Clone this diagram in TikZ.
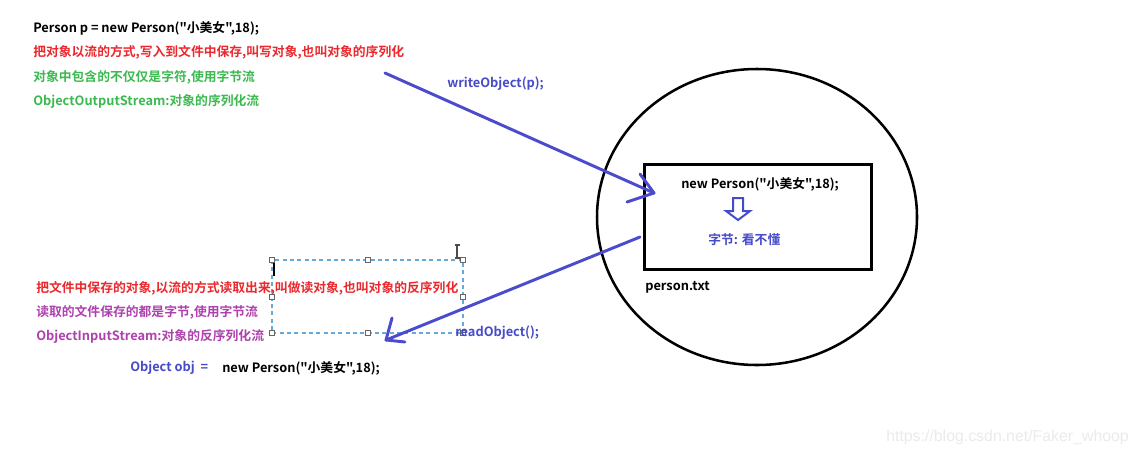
\documentclass[tikz,border=0pt]{standalone}
\usepackage{fontspec}
\setmainfont{Noto Sans CJK SC}[BoldFont={Noto Sans CJK SC Bold},Ligatures=TeXOff]
\newfontfamily\wmfont{Liberation Sans}
\usetikzlibrary{shapes.geometric}
\definecolor{tred}{RGB}{235,40,45}
\definecolor{tgreen}{RGB}{60,185,80}
\definecolor{tpurple}{RGB}{175,65,175}
\definecolor{tblue}{RGB}{70,75,200}
\definecolor{ablue}{RGB}{75,75,205}
\definecolor{selblue}{RGB}{100,170,220}
\begin{document}
\begin{tikzpicture}[x=0.75pt,y=-0.75pt,
  txt/.style={anchor=west,inner sep=0pt,font=\fontsize{9.6pt}{11pt}\selectfont\bfseries},
  arr/.style={draw=ablue,line width=2.2pt,line cap=round,line join=round},
  handle/.style={draw=gray!80!black,fill=white,line width=0.5pt,minimum size=3.6pt,inner sep=0pt,rectangle}]
\useasboundingbox (0,0) rectangle (1137,457);
\fill[white] (0,0) rectangle (1137,457);

% top-left texts
\node[txt,text=black] (t1) at (33,28) {Person p = new Person("小美女",18);};
\node[txt,text=tred] (t2) at (33,52) {把对象以流的方式,写入到文件中保存,叫写对象,也叫对象的序列化};
\node[txt,text=tgreen] (t3) at (33,77) {对象中包含的不仅仅是字符,使用字节流};
\node[txt,text=tgreen] (t4) at (33,101) {ObjectOutputStream:对象的序列化流};
\node[txt,text=tblue] (w) at (447,84) {writeObject(p);};

% circle and file box
\node[draw=black,line width=1.9pt,ellipse,minimum width=240pt,minimum height=222pt,inner sep=0pt] (circ) at (757,217) {};
\node[draw=black,line width=2.3pt,rectangle,minimum width=170pt,minimum height=79pt,inner sep=0pt,anchor=north west] (file) at (643,163) {};
\node[txt,text=black] (np) at (681,184) {new Person("小美女",18);};
\draw[draw=tblue,line width=1.5pt,line join=miter]
  (733,198) -- (743,198) -- (743,211) -- (750,211) -- (738,220) -- (726,211) -- (733,211) -- cycle;
\node[txt,text=tblue] (bytes) at (708,240) {字节: 看不懂};
\node[txt,text=black] (ptxt) at (645,287) {person.txt};

% write arrow
\coordinate (wa) at (385,73);
\coordinate (wt) at (654,193);
\coordinate (wb1) at (640,174);
\coordinate (wb2) at (627,202);
\draw[arr] (wa) -- (wt);
\draw[arr] (wb1) -- (wt) -- (wb2);

% selection box (screenshot artefact)
\coordinate (s1) at (272,260);
\coordinate (s2) at (463,333);
\draw[selblue,line width=0.8pt,dash pattern=on 3pt off 2.5pt] (s1) rectangle (s2);
\foreach \p in {(272,260),(368,260),(463,260),(272,297),(463,297),(272,333),(368,333),(463,333)}
  \node[handle] at \p {};
\draw[black,line width=0.9pt] (274,263) -- (274,276);
\draw[gray!60!black,line width=0.8pt] (457,245) -- (457,258) (454.5,245) -- (459.5,245) (454.5,258) -- (459.5,258);

% bottom-left texts
\node[txt,text=tred] (b1) at (36,288) {把文件中保存的对象,以流的方式读取出来,叫做读对象,也叫对象的反序列化};
\node[txt,text=tpurple] (b2) at (36,312) {读取的文件保存的都是字节,使用字节流};
\node[txt,text=tpurple] (b3) at (36,336) {ObjectInputStream:对象的反序列化流};
\node[txt,text=tblue] (r) at (455,333) {readObject();};
\node[txt,text=tblue] (oo) at (130,368) {Object obj \ =};
\node[txt,text=black] (on) at (222,368) {new Person("小美女",18);};

% read arrow
\coordinate (ra) at (640,237);
\coordinate (rt) at (386,340);
\coordinate (rb1) at (392,318);
\coordinate (rb2) at (405,342);
\draw[arr] (ra) -- (rt);
\draw[arr] (rb1) -- (rt) -- (rb2);

% watermark
\node[anchor=west,inner sep=0pt,text=black!8,font=\wmfont\fontsize{11.9pt}{13pt}\selectfont] (wm) at (886,437) {https://blog.csdn.net/Faker\_whoop};
\end{tikzpicture}
\end{document}
